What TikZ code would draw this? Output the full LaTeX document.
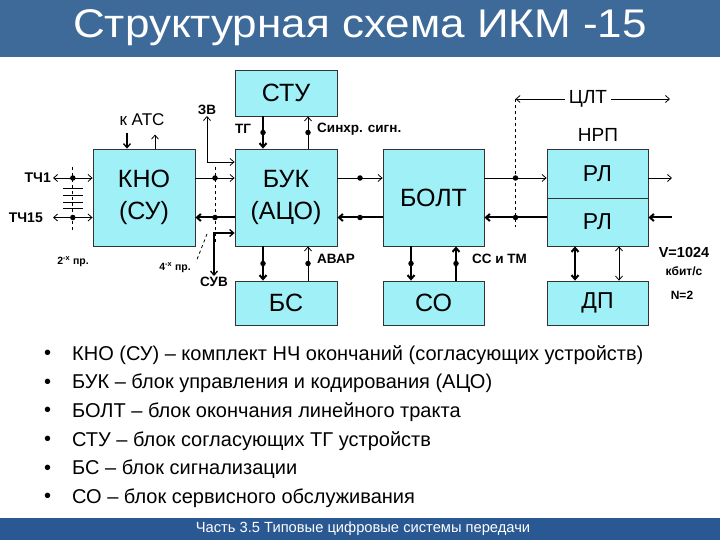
\documentclass[tikz,border=0pt]{standalone}
\usepackage{fontspec}
\setmainfont{Liberation Sans}
\usetikzlibrary{positioning,arrows.meta,calc}
\definecolor{barblue}{RGB}{62,106,154}
\definecolor{footblue}{RGB}{42,88,146}
\definecolor{blkfill}{RGB}{160,240,248}

\begin{document}
\begin{tikzpicture}[
  x=1pt,y=-1pt,
  blk/.style={rectangle,draw=black!80,line width=0.8pt,fill=blkfill,
              minimum width=102pt,minimum height=97pt,align=center,inner sep=0pt,
              font=\fontsize{25}{32}\selectfont},
  lbl/.style={font=\fontsize{13.5}{15}\selectfont\bfseries,inner sep=1pt},
  small/.style={font=\fontsize{10.5}{12}\selectfont\bfseries,inner sep=1pt},
  dot/.style={circle,fill=black,inner sep=0pt,minimum size=5.5pt},
  ln/.style={line width=0.8pt},
  fat/.style={line width=2pt},
  arr/.style={-{Straight Barb[length=4pt,width=7pt]}},
  darr/.style={{Straight Barb[length=4pt,width=7pt]}-{Straight Barb[length=4pt,width=7pt]}},
  bus/.style={dashed,line width=0.8pt},
  item/.style={anchor=west,font=\fontsize{20}{22}\selectfont,inner sep=0pt},
]
\useasboundingbox (0,0) rectangle (720,540);

% title and footer bars
\fill[barblue] (0,0) rectangle (720,57);
\node[white,anchor=base,font=\fontsize{40}{44}\selectfont,xscale=1.1] (title) at (360,38) {Структурная схема ИКМ -15};
\fill[footblue] (0,518) rectangle (720,540);
\node[white,font=\fontsize{14.7}{16}\selectfont] (foot) at (363,529) {Часть 3.5 Типовые цифровые системы передачи};

% blocks
\node[blk] (kno) at (144,197.5) {КНО\\(СУ)};
\node[blk] (buk) at (286,197.5) {БУК\\(АЦО)};
\node[blk,minimum width=101pt] (bolt) at (433.5,197.5) {БОЛТ};
\node[blk,minimum width=101pt,minimum height=49pt,font=\fontsize{23}{26}\selectfont] (rl1) at (597.5,173.5) {РЛ};
\node[blk,minimum width=101pt,minimum height=48pt,font=\fontsize{23}{26}\selectfont] (rl2) at (597.5,222) {РЛ};
\node[blk,minimum height=46pt] (stu) at (286,93) {СТУ};
\node[blk,minimum height=44pt] (bs) at (286,303) {БС};
\node[blk,minimum width=101pt,minimum height=44pt] (so) at (433.5,303) {СО};
\node[blk,minimum width=101pt,minimum height=44pt,font=\fontsize{23}{26}\selectfont] (dp) at (597.5,303) {ДП};

% signal levels
\coordinate (fw) at (0,178);
\coordinate (bw) at (0,217.5);
\coordinate (zvl) at (0,162);
\coordinate (suvl) at (0,233);

% ТЧ inputs
\node[font=\fontsize{14}{16}\selectfont\bfseries,anchor=east,inner sep=0pt] (tch1) at (51,178) {ТЧ1};
\node[font=\fontsize{14}{16}\selectfont\bfseries,anchor=east,inner sep=0pt] (tch15) at (43,217.5) {ТЧ15};
\coordinate (in1) at (53,178);
\coordinate (in15) at (53,217.5);
\draw[ln,darr] (in1) -- node[dot] (t1) {} (kno.west |- fw);
\draw[ln,darr] (in15) -- node[dot] (t15) {} (kno.west |- bw);
\draw[bus] ($(t1)+(0,-11)$) -- ($(t15)+(0,13)$);
\foreach \y in {188,195,202,208} \draw[ln] (63,\y) -- (83,\y);
\node[small] (pr2) at (73,262) {2\textsuperscript{-х} пр.};

% к АТС
\node[font=\fontsize{17}{19}\selectfont] (atc) at (142,120) {к АТС};
\draw[fat,arr,line width=1.3pt] ($(kno.north)+(-17,-16)$) -- ($(kno.north)+(-17,0)$);
\draw[ln,arr] ($(kno.north)+(11,0)$) -- ($(kno.north)+(11,-14)$);

% КНО -- БУК
\draw[ln,arr] (kno.east |- fw) -- node[dot] (k1) {} (buk.west |- fw);
\draw[fat,arr] (buk.west |- bw) -- node[dot] (k2) {} (kno.east |- bw);
\draw[bus] ($(k1)+(0,-11)$) -- ($(k2)+(0,25)$);
\draw[bus] (207,234) -- (196,262);
\node[small] (pr4) at (175,268) {4\textsuperscript{-х} пр.};
\node[lbl] (zv) at (207,110) {ЗВ};
\draw[ln,darr] (zv.south) |- (buk.west |- zvl);
\node[lbl] (suv) at (214,282) {СУВ};
\draw[ln,darr,line width=1.3pt] (buk.west |- suvl) -| (suv.north);

% СТУ -- БУК
\draw[fat,arr] ($(stu.south)+(-23,0)$) -- node[dot] {} ($(buk.north)+(-23,0)$);
\draw[ln,arr] ($(buk.north)+(22,0)$) -- node[dot] {} ($(stu.south)+(22,0)$);
\node[lbl] (tg) at (243,129) {ТГ};
\node[lbl,anchor=west] (sync) at (316,129) {Синхр. сигн.};

% БУК -- БС
\draw[fat,arr] ($(buk.south)+(-23,0)$) -- node[dot] {} ($(bs.north)+(-23,0)$);
\draw[ln,arr] ($(bs.north)+(22,0)$) -- node[dot] {} ($(buk.south)+(22,0)$);
\node[lbl,anchor=west] (avar) at (316,259) {АВАР};

% БУК -- БОЛТ
\draw[ln,arr] (buk.east |- fw) -- node[dot] {} (bolt.west |- fw);
\draw[fat,arr] (bolt.west |- bw) -- node[dot] {} (buk.east |- bw);

% БОЛТ -- СО
\draw[fat,arr] ($(bolt.south)+(-22.5,0)$) -- node[dot] {} ($(so.north)+(-22.5,0)$);
\draw[fat,arr] ($(so.north)+(22.5,0)$) -- node[dot] {} ($(bolt.south)+(22.5,0)$);
\node[lbl,anchor=west] (sstm) at (471,259) {СС и ТМ};

% БОЛТ -- НРП
\draw[ln,arr] (bolt.east |- fw) -- node[dot] (b1) {} (rl1.west |- fw);
\draw[fat,arr] (rl2.west |- bw) -- node[dot] (b2) {} (bolt.east |- bw);
\node[fill=white,inner sep=4pt,font=\fontsize{19}{21}\selectfont] (clt) at (588,99) {ЦЛТ};
\coordinate (cltend) at (670,99);
\draw[ln,arr] (clt.west) -- (b1 |- clt);
\draw[ln,arr] (clt.east) -- (cltend);
\draw[bus] (b1 |- clt) -- ($(b2)+(0,10)$);
\node[font=\fontsize{19}{21}\selectfont] (nrp) at (598,135) {НРП};

% line side
\coordinate (out1) at (672,178);
\coordinate (in2) at (672,217.5);
\draw[ln,arr] (rl1.east |- fw) -- (out1);
\draw[fat,arr] (in2) -- (rl2.east |- bw);

% НРП -- ДП
\draw[fat,darr] ($(rl2.south)+(-22.5,0)$) -- ($(dp.north)+(-22.5,0)$);
\draw[ln,darr] ($(rl2.south)+(21.5,0)$) -- ($(dp.north)+(21.5,0)$);
\node[lbl,font=\fontsize{14.5}{16}\selectfont\bfseries] (vel) at (684,253) {V=1024};
\node[lbl,font=\fontsize{12}{14}\selectfont\bfseries] (kbit) at (684,271) {кбит/с};
\node[lbl,font=\fontsize{12}{14}\selectfont\bfseries] (nn) at (682,295) {N=2};

% legend
\foreach \t [count=\i from 0] in {
  КНО (СУ) – комплект НЧ окончаний (согласующих устройств),
  БУК – блок управления и кодирования (АЦО),
  БОЛТ – блок окончания линейного тракта,
  СТУ – блок согласующих ТГ устройств,
  БС – блок сигнализации,
  СО – блок сервисного обслуживания}
{
  \node[item] (b\i) at (44,355+28.6*\i) {•};
  \node[item] (l\i) at (72,355+28.6*\i) {\t};
}
\end{tikzpicture}
\end{document}
